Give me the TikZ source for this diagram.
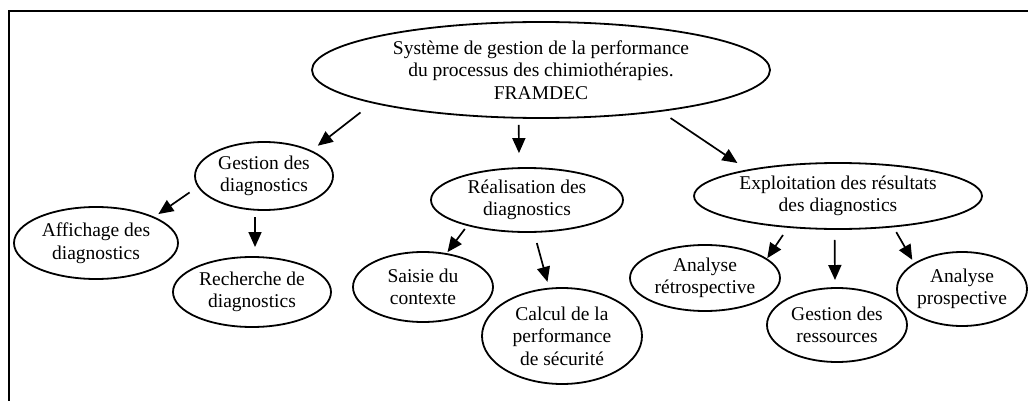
\documentclass[tikz,border=0pt]{standalone}
\usepackage{fontspec}
\setmainfont{Liberation Serif}
\usetikzlibrary{shapes.geometric,arrows.meta}
\begin{document}
\begin{tikzpicture}[x=1pt,y=-1pt,
  bubble/.style={ellipse,draw,line width=1.8pt,inner sep=0pt,outer sep=0pt,
    align=center,font=\fontsize{19.5}{22.5}\selectfont},
  arr/.style={line width=1.7pt,-{Triangle[length=15pt,width=13pt]}}]
\useasboundingbox (0,0) rectangle (1028,401);
% frame
\draw[line width=2.4pt] (9,401) -- (9,11) -- (1028,11);

% nodes
\node[bubble,minimum width=458,minimum height=96] (top) at (541,70)
  {Système de gestion de la performance\\du processus des chimiothérapies.\\FRAMDEC};
\node[bubble,minimum width=138,minimum height=68] (gest) at (264,176) {Gestion des\\diagnostics};
\node[bubble,minimum width=164,minimum height=72] (affi) at (96,243) {Affichage des\\diagnostics};
\node[bubble,minimum width=158,minimum height=70] (rech) at (252,292) {Recherche de\\diagnostics};
\node[bubble,minimum width=192,minimum height=64] (real) at (527,200) {Réalisation des\\diagnostics};
\node[bubble,minimum width=140,minimum height=70] (sais) at (423,287) {Saisie du\\contexte};
\node[bubble,minimum width=160,minimum height=96] (calc) at (562,336) {Calcul de la\\performance\\de sécurité};
\node[bubble,minimum width=288,minimum height=66] (expl) at (838,196) {Exploitation des résultats\\des diagnostics};
\node[bubble,minimum width=150,minimum height=66] (retro) at (705,278) {Analyse\\rétrospective};
\node[bubble,minimum width=140,minimum height=74] (ress) at (837,325) {Gestion des\\ressources};
\node[bubble,minimum width=130,minimum height=74] (prosp) at (962,289) {Analyse\\prospective};

% connectors
\draw[arr,shorten <=16pt,shorten >=8.7pt] (top.191.6) -- (gest.28);
\draw[arr,shorten <=7pt,shorten >=15pt] (top.245.3) -- (real.104.1);
\draw[arr,shorten <=12.7pt,shorten >=12.9pt] (top.341.9) -- (expl.164.7);
\draw[arr,shorten <=10.6pt,shorten >=5.8pt] (gest.189.8) -- (affi.24.3);
\draw[arr,shorten <=7.3pt,shorten >=10pt] (gest.255) -- (rech.85.1);
\draw[arr,shorten <=4.8pt,shorten >=2.3pt] (real.203.1) -- (sais.55.8);
\draw[arr,shorten <=11.5pt,shorten >=7pt] (real.282.5) -- (calc.105.7);
\draw[arr,shorten <=9.7pt,shorten >=1.2pt] (expl.212.1) -- (retro.17.1);
\draw[arr,shorten <=11pt,shorten >=8pt] (expl.264.8) -- (ress.93.1);
\draw[arr,shorten <=6.5pt,shorten >=4.5pt] (expl.331.5) -- (prosp.152.4);
\end{tikzpicture}
\end{document}
